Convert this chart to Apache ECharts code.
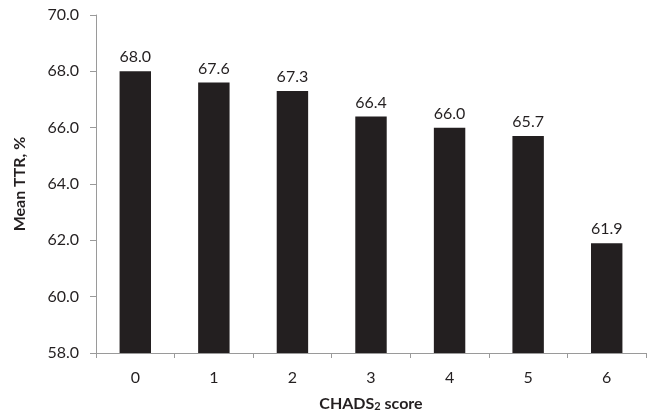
<!DOCTYPE html>
<html><head><meta charset="utf-8">
<script src="https://cdn.jsdelivr.net/npm/echarts@6/dist/echarts.min.js"></script>
<style>html,body{margin:0;padding:0;background:#fff}#c{width:651px;height:414px}</style>
</head><body><div id="c"></div>
<script>
const categories = ['0','1','2','3','4','5','6'];
const meanTTR = [68.0, 67.6, 67.3, 66.4, 66.0, 65.7, 61.9];
const yMin = 58, yMax = 70, yStep = 2;
const font = 'Lato, "Open Sans", sans-serif';
const txt = '#231f20';
const chart = echarts.init(document.getElementById('c'));
chart.setOption({
  animation: false,
  grid: {left: 96, right: 5, top: 15, bottom: 61, containLabel: false, outerBoundsMode: 'none'},
  xAxis: {
    type: 'category', data: categories,
    axisLine: {lineStyle: {color: '#9a9a9a', width: 1}},
    axisTick: {show: true, length: 5, lineStyle: {color: '#9a9a9a'}},
    axisLabel: {fontFamily: font, fontSize: 16, color: txt, margin: 17},
    name: 'CHADS{sub|2} score', nameLocation: 'middle', nameGap: 43,
    nameTextStyle: {fontFamily: font, fontSize: 16, fontWeight: 'bold', color: txt,
      rich: {sub: {fontFamily: font, fontSize: 11, fontWeight: 'bold', color: txt, verticalAlign: 'bottom', lineHeight: 12, padding: [10,0,0,0]}}}
  },
  yAxis: {
    type: 'value', min: yMin, max: yMax, interval: yStep,
    axisLine: {show: true, lineStyle: {color: '#9a9a9a', width: 1}},
    axisTick: {show: true, length: 6, lineStyle: {color: '#9a9a9a'}},
    splitLine: {show: false},
    axisLabel: {fontFamily: font, fontSize: 16, color: txt, margin: 17, formatter: v => v.toFixed(1)},
    name: 'Mean TTR, %', nameLocation: 'middle', nameGap: 68, nameRotate: 90,
    nameTextStyle: {fontFamily: font, fontSize: 16, fontWeight: 'bold', color: txt}
  },
  series: [{
    type: 'bar', data: meanTTR, barWidth: '40%',
    itemStyle: {color: '#231f20'},
    label: {show: true, position: 'top', distance: 6, fontFamily: font, fontSize: 16, color: txt,
      formatter: p => p.value.toFixed(1)}
  }]
});
</script></body></html>
